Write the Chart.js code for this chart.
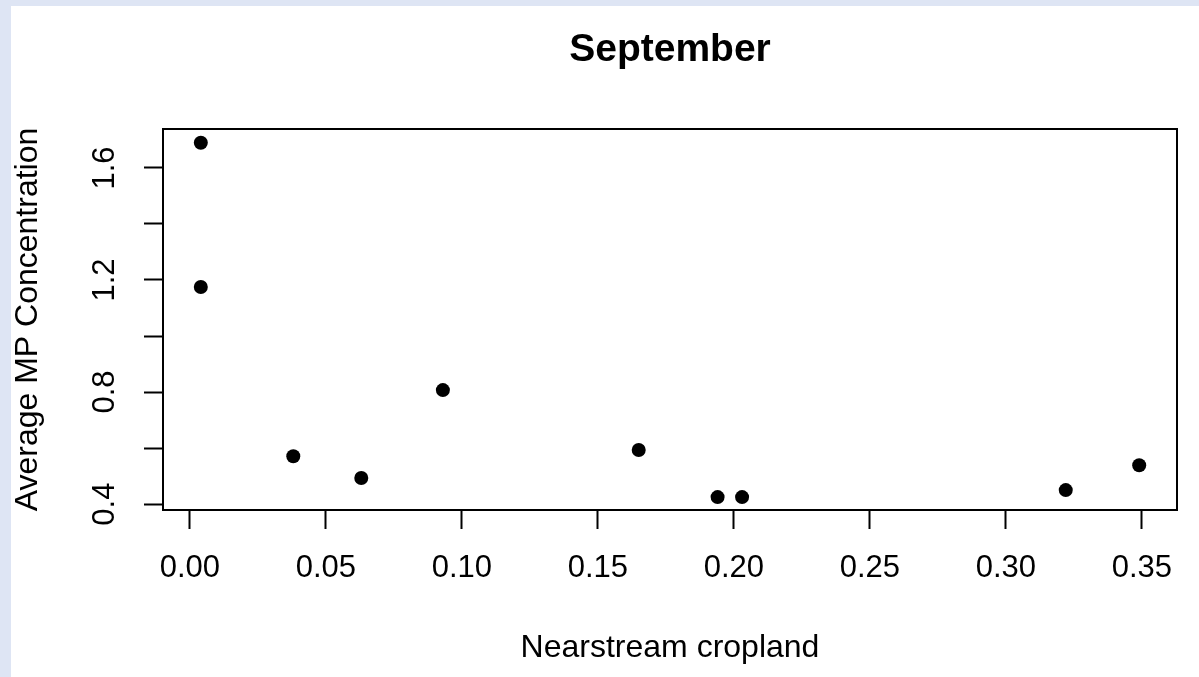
<!DOCTYPE html>
<html>
<head>
<meta charset="utf-8">
<title>September</title>
<script src="https://cdn.jsdelivr.net/npm/chart.js@4/dist/chart.umd.min.js"></script>
<style>
  html, body { margin: 0; padding: 0; }
  body  { width: 1199px; height: 677px; background: #dee5f4; position: relative; overflow: hidden; }
  #wrap { position: absolute; left: 11px; top: 6px; width: 1188px; height: 671px; background: #fff; }
</style>
</head>
<body>
<div id="wrap"><canvas id="chartSep" width="1188" height="671"></canvas></div>
<script>
/* ── Data ───────────────────────────────────────────────── */
const cropland  = [0.004, 0.004, 0.038, 0.063, 0.093, 0.165, 0.194, 0.203, 0.322, 0.349];
const mpConc    = [1.690, 1.175, 0.571, 0.493, 0.807, 0.593, 0.425, 0.425, 0.450, 0.539];
const yLabelled = ["0.4", "0.8", "1.2", "1.6"];
const mainTitle = "September";

const family = "'Liberation Sans', Arial, sans-serif";

/* ── Box round the plot region + title centred over it (R style) ── */
const boxPlugin = {
  id: "box",
  afterDraw(chart) {
    const { ctx, chartArea: a } = chart;
    ctx.save();
    ctx.strokeStyle = "#000";
    ctx.lineWidth   = 2;
    ctx.strokeRect(a.left, a.top, a.right - a.left, a.bottom - a.top);

    ctx.fillStyle    = "#000";
    ctx.font         = `bold 39px ${family}`;
    ctx.textAlign    = "center";
    ctx.textBaseline = "middle";
    ctx.fillText(mainTitle, (a.left + a.right) / 2, 44);
    ctx.restore();
  },
};

const tickFont  = { family, size: 31 };
const titleFont = { family, size: 32, lineHeight: 1.2 };

new Chart(document.getElementById("chartSep"), {
  type: "scatter",
  data: {
    datasets: [{
      data: cropland.map((x, i) => ({ x, y: mpConc[i] })),
      backgroundColor: "#000",
      borderWidth:     0,
      pointRadius:     7,
    }],
  },
  options: {
    responsive: false,
    animation:  false,
    layout:     { padding: { left: 0, right: 22, top: 123, bottom: 0 } },
    plugins: {
      legend:  { display: false },
      tooltip: { enabled: false },
      title:   { display: false },
    },
    scales: {
      x: {
        type: "linear",
        min:  -0.0099,
        max:  0.3629,
        afterFit: s => { s.height = 167; },
        border: { display: false },
        grid: {
          drawOnChartArea: false,
          tickLength: 19,
          tickWidth:  2,
          tickColor:  "#000",
        },
        ticks: {
          stepSize:      0.05,
          includeBounds: false,
          color:   "#000",
          font:    tickFont,
          padding: 21,
          maxRotation: 0,
          callback: v => v.toFixed(2),
        },
        title: {
          display: true,
          text:    "Nearstream cropland",
          color:   "#000",
          font:    titleFont,
          padding: { top: 0, bottom: 10 },
        },
      },
      y: {
        type: "linear",
        min:  0.379,
        max:  1.739,
        afterFit: s => { s.width = 152; },
        border: { display: false },
        grid: {
          drawOnChartArea: false,
          tickLength: 19,
          tickWidth:  2,
          tickColor:  "#000",
        },
        ticks: {
          stepSize:      0.2,
          includeBounds: false,
          color:   "#000",
          font:    tickFont,
          padding:     17,
          minRotation: 90,
          maxRotation: 90,
          crossAlign:  "center",
          callback: v => {
            const s = v.toFixed(1);
            return yLabelled.includes(s) ? s : "";
          },
        },
        title: {
          display: true,
          text:    "Average MP Concentration",
          color:   "#000",
          font:    titleFont,
          padding: { top: -2, bottom: 0 },
        },
      },
    },
  },
  plugins: [boxPlugin],
});
</script>
</body>
</html>
